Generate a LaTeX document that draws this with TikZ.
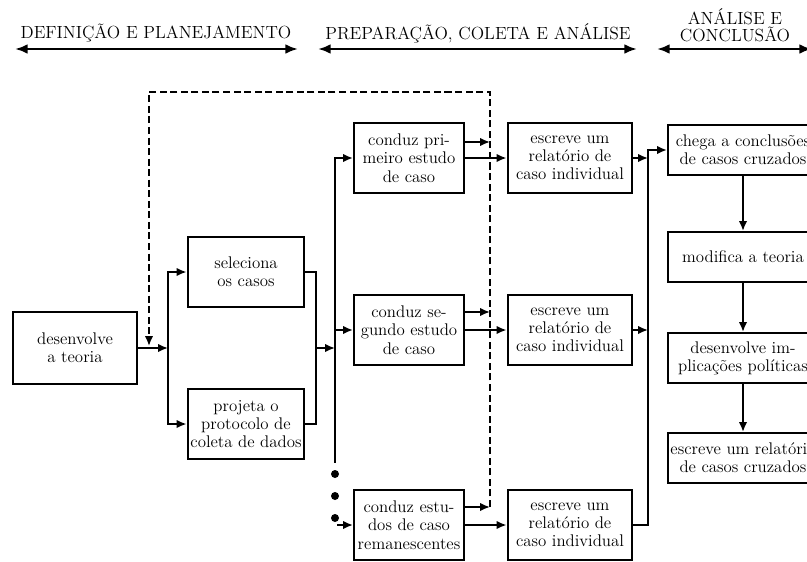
\documentclass[tikz,border=0pt]{standalone}
\usepackage{tikz}
\usetikzlibrary{arrows.meta, positioning}
\tikzset{>={Latex[length=7pt,width=6pt]}}
\tikzset{caixa/.style={draw, line width=1.5pt, align=center, inner sep=1pt, font=\fontsize{12}{13}\selectfont},
	liga/.style={line width=1.3pt},
	tracejado/.style={line width=1.3pt, dash pattern=on 5pt off 2.5pt},
	fase/.style={align=center, font=\fontsize{12.5}{12}\selectfont},
	faseseta/.style={<->, >={Latex[length=9pt,width=7pt]}, line width=2pt},
	ponto/.style={circle, fill, inner sep=0pt, minimum size=0.2cm}}

\begin{document}
\begin{tikzpicture}[x=0.025cm, y=-0.025cm]
		\useasboundingbox (0,0) rectangle (807,561);
		% fases
		\node[fase] (defin) at (156,33) {DEFINIÇÃO E PLANEJAMENTO};
		\node[fase] (prep) at (478,33) {PREPARAÇÃO, COLETA E ANÁLISE};
		\node[fase] (concl) at (735,25) {ANÁLISE E\\CONCLUSÃO};
		\coordinate (d1) at (15,49);  \coordinate (d2) at (298,49);
		\coordinate (p1) at (318,49); \coordinate (p2) at (637,49);
		\coordinate (c1) at (657,49); \coordinate (c2) at (812,49);
		\draw[faseseta] (d1) -- (d2); \draw[faseseta] (p1) -- (p2); \draw[faseseta] (c1) -- (c2);
		
		% caixas
		\node[caixa, minimum width=3.08cm, minimum height=1.78cm] (teoria) at (75,348) {desenvolve\\a teoria};
		\node[caixa, minimum width=2.92cm, minimum height=1.76cm] (seleciona) at (246,272) {seleciona\\os casos};
		\node[caixa, minimum width=2.92cm, minimum height=1.76cm] (projeta) at (246,424) {projeta o\\protocolo de\\coleta de dados};
		\node[caixa, minimum width=2.75cm, minimum height=1.75cm] (conduzA) at (409,158) {conduz pri-\\meiro estudo\\de caso};
		\node[caixa, minimum width=2.75cm, minimum height=1.75cm] (conduzB) at (409,330) {conduz se-\\gundo estudo\\de caso};
		\node[caixa, minimum width=2.75cm, minimum height=1.75cm] (conduzC) at (409,525) {conduz estu-\\dos de caso\\remanescentes};
		\node[caixa, minimum width=3.12cm, minimum height=1.75cm] (escreveA) at (570,158) {escreve um\\relatório de\\caso individual};
		\node[caixa, minimum width=3.12cm, minimum height=1.75cm] (escreveB) at (570,330) {escreve um\\relatório de\\caso individual};
		\node[caixa, minimum width=3.12cm, minimum height=1.75cm] (escreveC) at (570,525) {escreve um\\relatório de\\caso individual};
		\node[caixa, minimum width=3.75cm, minimum height=1.25cm] (conclusoes) at (743,150) {chega a conclusões\\de casos cruzados};
		\node[caixa, minimum width=3.75cm, minimum height=1.25cm] (modifica) at (743,257) {modifica a teoria};
		\node[caixa, minimum width=3.75cm, minimum height=1.25cm] (implicacoes) at (743,358) {desenvolve im-\\plicações políticas};
		\node[caixa, minimum width=3.75cm, minimum height=1.25cm] (relatorio) at (743,458) {escreve um relatório\\de casos cruzados};
		
		% ligacoes
		\coordinate (b1) at (168,348); \coordinate (j1) at (316,348); \coordinate (b2) at (335,348);
		\coordinate (f2) at (335,463); \coordinate (e2) at (337,525); \coordinate (b3) at (648,150);
		\draw[liga, ->] (teoria.east) -- (b1);
		\draw[liga, ->] (b1) |- (seleciona.west); \draw[liga, ->] (b1) |- (projeta.west);
		\draw[liga] (seleciona.east) -| (j1); \draw[liga] (projeta.east) -| (j1);
		\draw[liga, ->] (j1) -- (b2);
		\draw[liga, ->] (b2) |- (conduzA.west); \draw[liga, ->] (b2) |- (conduzB.west);
		\draw[liga] (b2) -- (f2);
		\node[ponto] (pa) at (335,474) {}; \node[ponto] (pb) at (335,496) {}; \node[ponto] (pc) at (335,518) {};
		\draw[liga, ->] (e2) -- (conduzC.west);
		\draw[liga, ->] (conduzA) -- (escreveA); \draw[liga, ->] (conduzB) -- (escreveB); \draw[liga, ->] (conduzC) -- (escreveC);
		\draw[liga, ->] (escreveA.east) -- (escreveA.east -| b3); \draw[liga, ->] (escreveB.east) -- (escreveB.east -| b3);
		\draw[liga, ->] (escreveC.east) -| (b3) -- (conclusoes.west);
		\draw[liga, ->] (conclusoes) -- (modifica); \draw[liga, ->] (modifica) -- (implicacoes); \draw[liga, ->] (implicacoes) -- (relatorio);
		
		% volta tracejada
		\coordinate (tA) at (490,142); \coordinate (tB) at (490,312); \coordinate (tC) at (490,507);
		\coordinate (topo) at (149,92); \coordinate (dt) at (149,346);
		\draw[liga, ->] (conduzA.east |- tA) -- (tA); \draw[liga, ->] (conduzB.east |- tB) -- (tB); \draw[liga, ->] (conduzC.east |- tC) -- (tC);
		\draw[tracejado, ->] (tC) |- (topo) -- (dt);
\end{tikzpicture}
\end{document}
